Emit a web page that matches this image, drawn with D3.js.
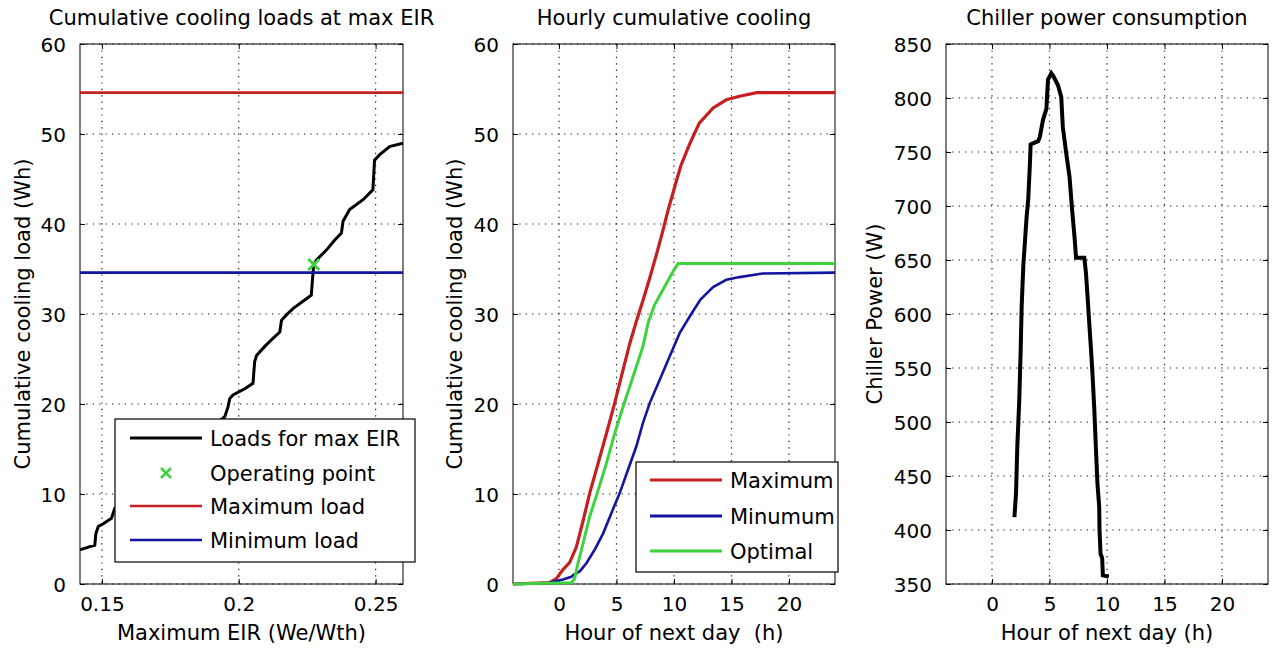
<!DOCTYPE html>
<html>
<head>
<meta charset="utf-8">
<script src="https://cdn.jsdelivr.net/npm/d3@7"></script>
<style>
  body { margin: 0; background: #fff; }
  svg { display: block; }
  text { font-family: "DejaVu Sans", sans-serif; fill: #000; }
</style>
</head>
<body>
<svg id="fig" width="1273" height="650"></svg>
<script>
// ---- Panel 1: cumulative load versus maximum EIR ----
const eirValues = [0.142, 0.1456, 0.1474, 0.1478, 0.1487, 0.1505, 0.1535, 0.1547, 0.1949, 0.1961,
  0.1967, 0.1979, 0.2022, 0.2052, 0.2058, 0.2065, 0.2095, 0.2125, 0.2150, 0.2156, 0.2174, 0.2198,
  0.2247, 0.2265, 0.2271, 0.2274, 0.2284, 0.2320, 0.2350, 0.2375, 0.2381, 0.2405, 0.2454, 0.2490,
  0.2496, 0.2515, 0.2551, 0.2600];
const eirLoads = [3.8, 4.15, 4.3, 5.6, 6.4, 6.7, 7.3, 8.4, 18.6, 19.7,
  20.6, 21.0, 21.7, 22.3, 24.7, 25.4, 26.4, 27.3, 28.0, 29.3, 29.9, 30.6,
  31.7, 32.1, 34.5, 35.5, 36.0, 37.1, 38.2, 39.0, 40.3, 41.6, 42.7, 43.8,
  47.1, 47.7, 48.6, 48.97];
const operatingEir = [0.2274];
const operatingLoad = [35.5];
const maxLoad = 54.6;
const minLoad = 34.6;

// ---- Panel 2: hourly cumulative cooling ----
const hoursMax = [-4, -0.8, -0.23, 0.35, 0.93, 1.51, 2.09, 2.67, 3.4, 4.12, 4.84, 5.57, 6.15, 6.73,
  7.3, 7.89, 8.47, 9.04, 9.48, 10.1, 10.6, 11.4, 12.2, 13.4, 14.55, 15.7, 17.2, 24];
const loadsMax = [0, 0.15, 0.6, 1.6, 2.4, 4.1, 7.0, 10.1, 13.4, 16.7, 20.1, 23.8, 26.7, 29.2,
  31.5, 34.0, 36.6, 39.3, 41.5, 44.3, 46.5, 49.0, 51.2, 52.9, 53.8, 54.2, 54.6, 54.6];
const hoursMin = [-4, -1.1, -0.52, 0.35, 1.07, 1.36, 1.8, 2.38, 3.1, 3.83, 4.56, 5.28, 6.0, 6.73,
  7.3, 7.89, 8.76, 9.63, 10.5, 11.5, 12.3, 13.4, 14.55, 15.7, 17.7, 24];
const loadsMin = [0, 0.05, 0.25, 0.5, 0.8, 1.1, 1.4, 2.3, 3.8, 5.6, 7.9, 10.1, 12.7, 15.3,
  17.9, 20.1, 22.7, 25.3, 27.9, 30.0, 31.6, 33.0, 33.8, 34.1, 34.5, 34.6];
const hoursOpt = [-4, 1.07, 1.36, 1.65, 2.09, 2.67, 3.4, 4.12, 4.84, 5.57, 6.43, 7.3, 7.75, 8.3,
  9.04, 9.9, 10.35, 24];
const loadsOpt = [0, 0.15, 0.6, 2.3, 4.5, 7.5, 10.4, 13.4, 16.7, 19.7, 23.0, 26.4, 29.0, 31.0,
  32.7, 34.7, 35.6, 35.6];

// ---- Panel 3: chiller power ----
const hoursPower = [1.95, 2.09, 2.20, 2.37, 2.49, 2.58, 2.72, 2.87, 3.01, 3.15, 3.30, 3.36, 4.01,
  4.16, 4.44, 4.73, 4.87, 5.16, 5.30, 5.73, 6.02, 6.16, 6.45, 6.74, 6.97, 7.17, 7.31, 8.03, 8.17,
  8.31, 8.46, 8.61, 8.74, 8.89, 9.03, 9.17, 9.32, 9.35, 9.44, 9.58, 9.64, 10.16];
const chillerPower = [412, 434, 477, 520, 565, 607, 644, 668, 690, 706, 740, 757, 760,
  764, 780, 790, 817, 823, 821, 812, 801, 773, 749, 727, 696, 672, 652, 652, 638,
  616, 591, 567, 544, 513, 477, 443, 422, 400, 378, 374, 358, 357];

// ---- Tick values ----
const eirTicks = [0.15, 0.2, 0.25];
const loadTicks = [0, 10, 20, 30, 40, 50, 60];
const hourTicks = [0, 5, 10, 15, 20];
const powerTicks = [350, 400, 450, 500, 550, 600, 650, 700, 750, 800, 850];

const RED = "#c42020", BLUE = "#1414a0", GREEN = "#3fd23f";
const svg = d3.select("#fig");
const TOP = 44, BOTTOM = 584;

function panel(o) {
  const x = d3.scaleLinear().domain(o.xDomain).range([o.left, o.right]);
  const y = d3.scaleLinear().domain(o.yDomain).range([BOTTOM, TOP]);
  const g = svg.append("g");

  // dotted grid
  g.append("g").selectAll("line").data(o.xTicks).join("line")
    .attr("x1", d => x(d)).attr("x2", d => x(d)).attr("y1", TOP).attr("y2", BOTTOM)
    .attr("stroke", "#111").attr("stroke-width", 1.2).attr("stroke-dasharray", "1.2,5.2");
  g.append("g").selectAll("line").data(o.yTicks).join("line")
    .attr("y1", d => y(d)).attr("y2", d => y(d)).attr("x1", o.left).attr("x2", o.right)
    .attr("stroke", "#111").attr("stroke-width", 1.2).attr("stroke-dasharray", "1.2,5.2");

  // axes with inward ticks on all four sides
  const bottomAx = g.append("g").attr("transform", `translate(0,${BOTTOM})`)
    .call(d3.axisBottom(x).tickValues(o.xTicks).tickSizeInner(-5).tickSizeOuter(0)
      .tickPadding(12).tickFormat(o.xFormat || (d => d)));
  const leftAx = g.append("g").attr("transform", `translate(${o.left},0)`)
    .call(d3.axisLeft(y).tickValues(o.yTicks).tickSizeInner(-5).tickSizeOuter(0)
      .tickPadding(14).tickFormat(d => d));
  const topAx = g.append("g").attr("transform", `translate(0,${TOP})`)
    .call(d3.axisTop(x).tickValues(o.xTicks).tickSizeInner(-5).tickSizeOuter(0).tickFormat(""));
  const rightAx = g.append("g").attr("transform", `translate(${o.right},0)`)
    .call(d3.axisRight(y).tickValues(o.yTicks).tickSizeInner(-5).tickSizeOuter(0).tickFormat(""));
  [bottomAx, leftAx, topAx, rightAx].forEach(a => {
    a.select(".domain").remove();
    a.selectAll("line").attr("stroke", "#000");
    a.selectAll("text").attr("font-family", "DejaVu Sans").attr("font-size", 20).attr("fill", "#000");
  });
  bottomAx.selectAll("text").attr("dy", null).attr("y", 27);
  leftAx.selectAll("text").attr("dy", "0.36em");

  g.append("rect").attr("x", o.left).attr("y", TOP)
    .attr("width", o.right - o.left).attr("height", BOTTOM - TOP)
    .attr("fill", "none").attr("stroke", "#000").attr("stroke-width", 1);

  const cx = (o.left + o.right) / 2;
  svg.append("text").attr("x", cx).attr("y", 25).attr("text-anchor", "middle")
    .attr("font-size", 21).text(o.title);
  svg.append("text").attr("x", cx).attr("y", 640).attr("text-anchor", "middle")
    .attr("font-size", 21).attr("xml:space", "preserve").text(o.xLabel);
  svg.append("text")
    .attr("transform", `translate(${o.yLabelX},${(TOP + BOTTOM) / 2}) rotate(-90)`)
    .attr("text-anchor", "middle").attr("font-size", 21).text(o.yLabel);

  const clipId = "clip" + o.left;
  svg.append("clipPath").attr("id", clipId).append("rect")
    .attr("x", o.left).attr("y", TOP - 2).attr("width", o.right - o.left).attr("height", BOTTOM - TOP + 4);
  const plot = svg.append("g").attr("clip-path", `url(#${clipId})`);
  return { x, y, plot };
}

function legend(items, box) {
  const lg = svg.append("g");
  lg.append("rect").attr("x", box.x).attr("y", box.y).attr("width", box.w).attr("height", box.h)
    .attr("fill", "#fff").attr("stroke", "#000").attr("stroke-width", 1.2);
  items.forEach((it, i) => {
    const yy = box.rowY[i];
    if (it.marker) {
      const mx = (box.lineX1 + box.lineX2) / 2, s = 5;
      lg.append("path").attr("d", `M${mx - s},${yy - s}L${mx + s},${yy + s}M${mx - s},${yy + s}L${mx + s},${yy - s}`)
        .attr("stroke", it.color).attr("stroke-width", 2.6);
    } else {
      lg.append("line").attr("x1", box.lineX1).attr("x2", box.lineX2).attr("y1", yy).attr("y2", yy)
        .attr("stroke", it.color).attr("stroke-width", it.width);
    }
    lg.append("text").attr("x", box.textX).attr("y", yy + 7.5).attr("font-size", 21).text(it.label);
  });
}

// ===== Panel 1 =====
const p1 = panel({
  left: 80, right: 403, xDomain: [0.142, 0.26], yDomain: [0, 60],
  xTicks: eirTicks, yTicks: loadTicks, xFormat: d => String(d),
  title: "Cumulative cooling loads at max EIR", xLabel: "Maximum EIR (We/Wth)",
  yLabel: "Cumulative cooling load (Wh)", yLabelX: 30
});
const eirLine = d3.line().x(d => p1.x(d[0])).y(d => p1.y(d[1]));
p1.plot.append("path").datum(d3.zip(eirValues, eirLoads)).attr("d", eirLine)
  .attr("fill", "none").attr("stroke", "#000").attr("stroke-width", 3).attr("stroke-linejoin", "miter");
d3.zip(operatingEir, operatingLoad).forEach(([e, l]) => {
  const mx = p1.x(e), my = p1.y(l), s = 5.5;
  p1.plot.append("path").attr("d", `M${mx - s},${my - s}L${mx + s},${my + s}M${mx - s},${my + s}L${mx + s},${my - s}`)
    .attr("stroke", GREEN).attr("stroke-width", 2.8);
});
[[maxLoad, RED], [minLoad, BLUE]].forEach(([v, c]) => {
  p1.plot.append("path").datum(p1.x.domain().map(e => [e, v])).attr("d", eirLine)
    .attr("fill", "none").attr("stroke", c).attr("stroke-width", 2.6);
});
legend([
  { label: "Loads for max EIR", color: "#000", width: 3 },
  { label: "Operating point", color: GREEN, marker: true },
  { label: "Maximum load", color: RED, width: 2.6 },
  { label: "Minimum load", color: BLUE, width: 2.6 }
], { x: 115, y: 419, w: 300, h: 143, rowY: [438, 473, 506, 540], lineX1: 130, lineX2: 202, textX: 210 });

// ===== Panel 2 =====
const p2 = panel({
  left: 513, right: 835, xDomain: [-4, 24], yDomain: [0, 60],
  xTicks: hourTicks, yTicks: loadTicks,
  title: "Hourly cumulative cooling", xLabel: "Hour of next day  (h)",
  yLabel: "Cumulative cooling load (Wh)", yLabelX: 462
});
const hourLine = d3.line().x(d => p2.x(d[0])).y(d => p2.y(d[1]));
[[hoursMax, loadsMax, RED, 3.2], [hoursMin, loadsMin, BLUE, 2.6], [hoursOpt, loadsOpt, GREEN, 3]]
  .forEach(([h, l, c, w]) => {
    p2.plot.append("path").datum(d3.zip(h, l)).attr("d", hourLine)
      .attr("fill", "none").attr("stroke", c).attr("stroke-width", w);
  });
legend([
  { label: "Maximum", color: RED, width: 3 },
  { label: "Minumum", color: BLUE, width: 3 },
  { label: "Optimal", color: GREEN, width: 3 }
], { x: 636, y: 462, w: 202, h: 110, rowY: [480, 516, 551], lineX1: 650, lineX2: 722, textX: 730 });

// ===== Panel 3 =====
const p3 = panel({
  left: 946, right: 1268, xDomain: [-4, 24], yDomain: [350, 850],
  xTicks: hourTicks, yTicks: powerTicks,
  title: "Chiller power consumption", xLabel: "Hour of next day (h)",
  yLabel: "Chiller Power (W)", yLabelX: 882
});
const powerLine = d3.line().x(d => p3.x(d[0])).y(d => p3.y(d[1]));
p3.plot.append("path").datum(d3.zip(hoursPower, chillerPower)).attr("d", powerLine)
  .attr("fill", "none").attr("stroke", "#000").attr("stroke-width", 4).attr("stroke-linejoin", "miter");
</script>
</body>
</html>
